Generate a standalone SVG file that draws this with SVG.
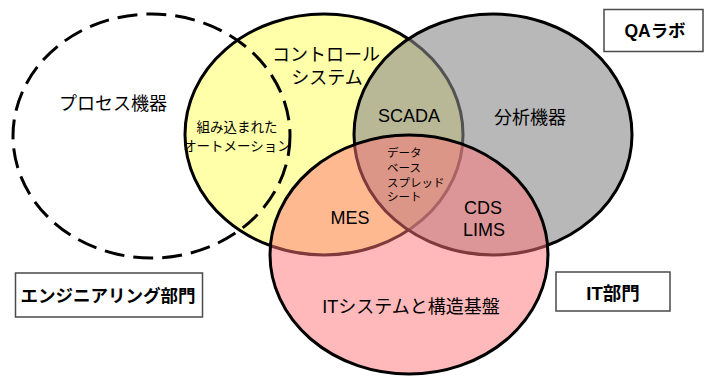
<svg xmlns="http://www.w3.org/2000/svg" width="705" height="378" viewBox="0 0 705 378">
<style>
.t{font-family:"Liberation Sans","Noto Sans CJK JP",sans-serif;fill:#000;dominant-baseline:central;text-anchor:middle}
.m{font-size:18px}
.s{font-size:13.5px}
.xs{font-size:11.5px;text-anchor:start}
.b{font-size:17.5px;font-weight:bold}
.ring{stroke:#000;stroke-width:3}
.box{fill:#fff;stroke:#4a4a4a;stroke-width:1.5}
</style>
<rect width="705" height="378" fill="#fff"/>
<g id="control-system">
<ellipse class="ring" cx="324" cy="134.5" rx="139" ry="120.5" fill="#FFFFAA"/>
</g>
<g id="qa-lab-instruments">
<ellipse class="ring" cx="493" cy="134.5" rx="139" ry="120.5" fill="#898989" fill-opacity="0.6"/>
</g>
<g id="it-infrastructure">
<ellipse class="ring" cx="409" cy="254.5" rx="139" ry="119.5" fill="#FF7377" fill-opacity="0.5"/>
</g>
<g id="process-equipment">
<ellipse cx="151.5" cy="136" rx="138.5" ry="122" fill="none" stroke="#000" stroke-width="3" stroke-dasharray="20 9"/>
<text class="t m" x="113" y="104">プロセス機器</text>
</g>
<g id="labels">
<text class="t m" x="326" y="55">コントロール</text>
<text class="t m" x="327" y="78">システム</text>
<text class="t s" x="237" y="127">組み込まれた</text>
<text class="t s" x="237" y="146">オートメーション</text>
<text class="t m" x="409" y="116">SCADA</text>
<text class="t m" x="530" y="118">分析機器</text>
<text class="t xs" x="387" y="153">データ</text>
<text class="t xs" x="387" y="168">ベース</text>
<text class="t xs" x="387" y="183">スプレッド</text>
<text class="t xs" x="387" y="197">シート</text>
<text class="t m" x="350" y="218">MES</text>
<text class="t m" x="483" y="208">CDS</text>
<text class="t m" x="484" y="230">LIMS</text>
<text class="t m" x="411" y="307">ITシステムと構造基盤</text>
</g>
<g id="qa-lab">
<rect class="box" x="604" y="9.5" width="99" height="42"/>
<text class="t b" x="655" y="31">QAラボ</text>
</g>
<g id="engineering-dept">
<rect class="box" x="15.5" y="273" width="187" height="44"/>
<text class="t b" x="108" y="296">エンジニアリング部門</text>
</g>
<g id="it-dept">
<rect class="box" x="556" y="272" width="114" height="39"/>
<text class="t b" x="613" y="293" style="font-size:18.5px">IT部門</text>
</g>
</svg>
